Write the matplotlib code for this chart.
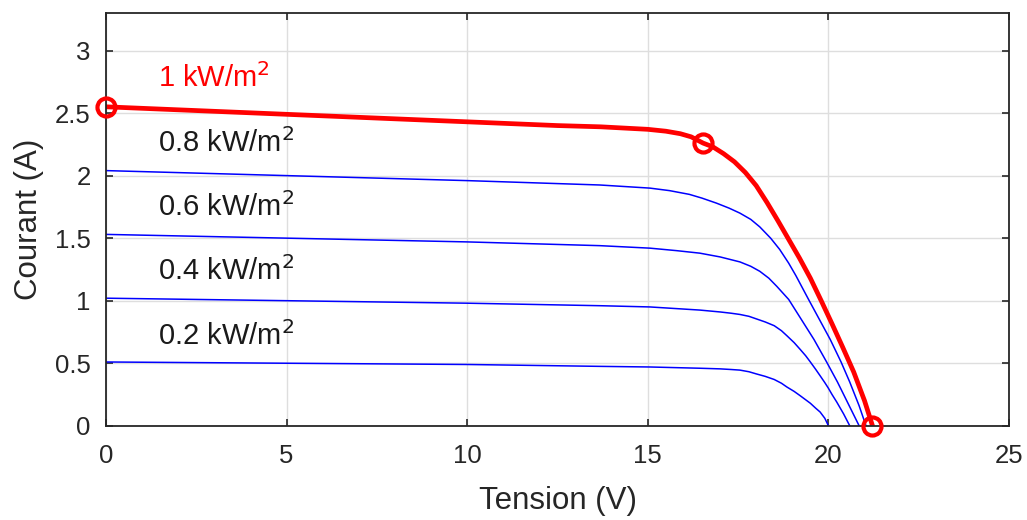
import matplotlib
matplotlib.use("Agg")
import matplotlib.pyplot as plt

plt.rcParams['font.family'] = ['Liberation Sans', 'DejaVu Sans']

# I-V curves (tension V, courant A)
v_1000 = [0, 2.5, 5, 7.5, 10, 12.5, 13.7, 15.0, 15.5, 15.9, 16.2, 16.53, 16.8, 17.1, 17.4, 17.7,
          18.0, 18.3, 18.6, 18.9, 19.2, 19.5, 19.8, 20.1, 20.4, 20.7, 21.0, 21.22]
i_1000 = [2.55, 2.52, 2.49, 2.46, 2.43, 2.40, 2.39, 2.37, 2.355, 2.335, 2.31, 2.26, 2.23, 2.175, 2.11, 2.025,
          1.92, 1.785, 1.64, 1.49, 1.34, 1.18, 1.0, 0.815, 0.625, 0.43, 0.2, 0.0]

v_800 = [0, 5, 10, 13.67, 15.06, 15.6, 16.15, 16.5, 16.9, 17.25, 17.55, 17.85, 18.1, 18.4, 18.65,
         18.9, 19.1, 19.45, 19.75, 20.05, 20.35, 20.59, 20.85, 21.04]
i_800 = [2.04, 2.0, 1.96, 1.925, 1.90, 1.88, 1.85, 1.82, 1.78, 1.74, 1.70, 1.65, 1.59, 1.50, 1.41,
         1.30, 1.20, 1.01, 0.85, 0.69, 0.51, 0.35, 0.16, 0.0]

v_600 = [0, 5, 10, 13.67, 15.06, 15.8, 16.44, 17.0, 17.55, 17.85, 18.1, 18.35, 18.57, 18.9,
         19.25, 19.6, 19.95, 20.25, 20.55, 20.85]
i_600 = [1.53, 1.50, 1.47, 1.44, 1.42, 1.40, 1.38, 1.35, 1.31, 1.275, 1.235, 1.18, 1.115, 1.01,
         0.85, 0.69, 0.51, 0.35, 0.175, 0.0]

v_400 = [0, 5, 10, 13.67, 15.06, 16.44, 17.0, 17.3, 17.55, 17.8, 18.0, 18.25, 18.5, 18.7, 18.85,
         19.05, 19.22, 19.37, 19.5, 19.65, 19.77, 19.9, 20.0, 20.1, 20.23, 20.42, 20.59]
i_400 = [1.02, 1.0, 0.98, 0.96, 0.95, 0.925, 0.91, 0.90, 0.89, 0.875, 0.855, 0.83, 0.80, 0.76, 0.72,
         0.665, 0.61, 0.56, 0.51, 0.45, 0.40, 0.345, 0.30, 0.25, 0.19, 0.095, 0.0]

v_200 = [0, 5, 10, 13.67, 15.06, 16.44, 17.0, 17.3, 17.55, 17.8, 18.0, 18.25, 18.5, 18.7, 18.85,
         19.05, 19.22, 19.5, 19.65, 19.77, 19.9, 20.0]
i_200 = [0.51, 0.50, 0.49, 0.475, 0.47, 0.46, 0.455, 0.45, 0.445, 0.432, 0.415, 0.395, 0.37, 0.34, 0.31,
         0.275, 0.24, 0.18, 0.14, 0.11, 0.06, 0.0]

# highlighted points on the 1 kW/m2 curve (Isc, MPP, Voc)
pts_v = [0, 16.53, 21.22]
pts_i = [2.55, 2.26, 0.0]

labels = ['1 kW/m$^2$', '0.8 kW/m$^2$', '0.6 kW/m$^2$', '0.4 kW/m$^2$', '0.2 kW/m$^2$']
label_y = [2.78, 2.26, 1.75, 1.24, 0.72]

fig = plt.figure(figsize=(10.27, 5.2), dpi=100)
ax = fig.add_axes([0.1032, 0.1812, 0.8793, 0.7938])

for v, i in [(v_800, i_800), (v_600, i_600), (v_400, i_400), (v_200, i_200)]:
    ax.plot(v, i, color='#0000ff', lw=1.1, solid_joinstyle='round')
ax.plot(v_1000, i_1000, color='#ff0000', lw=3.4, solid_joinstyle='round', solid_capstyle='round')
ax.plot(pts_v, pts_i, 'o', ms=13, mfc='none', mec='#ff0000', mew=3.0, clip_on=False, zorder=5)

for k, (txt, y) in enumerate(zip(labels, label_y)):
    ax.text(1.45, y, txt, color='#ff0000' if k == 0 else '#1a1a1a',
            fontsize=21, va='center', ha='left')

ax.set_xlim(0, 25)
ax.set_ylim(0, 3.3)
ax.set_xticks([0, 5, 10, 15, 20, 25])
ax.set_yticks([0, 0.5, 1, 1.5, 2, 2.5, 3])
ax.set_yticklabels(['0', '0.5', '1', '1.5', '2', '2.5', '3'])
ax.grid(True, color='#dedede', lw=1.0)
ax.set_axisbelow(True)
ax.tick_params(direction='in', length=5, width=1.2, colors='#262626', labelsize=18.5,
               top=True, right=True)
ax.tick_params(axis='x', pad=13)
ax.tick_params(axis='y', pad=11)
for s in ax.spines.values():
    s.set_color('#262626')
    s.set_linewidth(1.3)

ax.set_xlabel('Tension (V)', fontsize=22.5, color='#262626', labelpad=13)
ax.set_ylabel('Courant (A)', fontsize=22.5, color='#262626', labelpad=8)

fig.savefig('out.png', dpi=100)
